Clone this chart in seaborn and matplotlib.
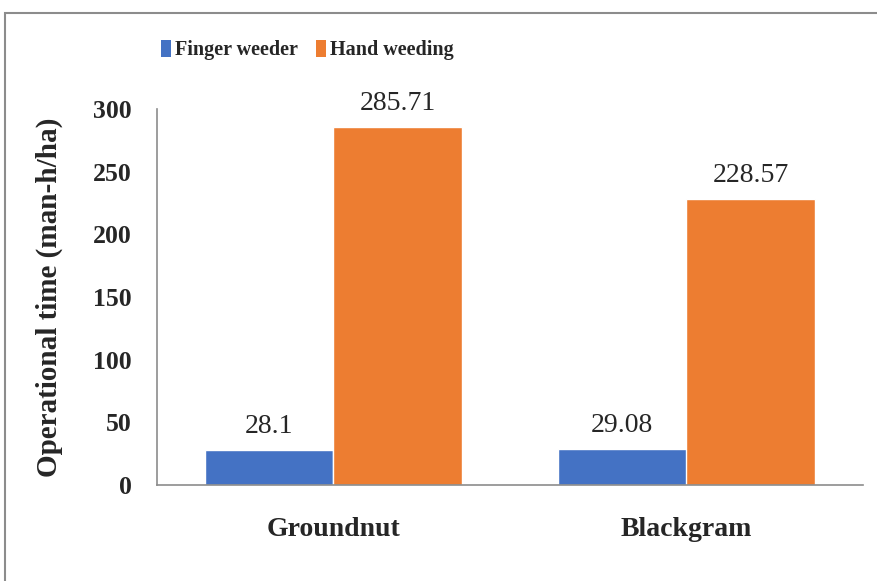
import matplotlib
matplotlib.use("Agg")
import pandas as pd
import matplotlib.pyplot as plt
import seaborn as sns
from matplotlib.patches import Rectangle, Patch

CROPS = ["Groundnut", "Blackgram"]
METHODS = ["Finger weeder", "Hand weeding"]
FINGER = [28.1, 29.08]
HAND = [285.71, 228.57]
LABELS = {"Finger weeder": ["28.1", "29.08"], "Hand weeding": ["285.71", "228.57"]}
COLORS = ["#4472C4", "#ED7D31"]
YTICKS = [0, 50, 100, 150, 200, 250, 300]


def build():
    rows = []
    for method, vals in zip(METHODS, [FINGER, HAND]):
        for crop, v in zip(CROPS, vals):
            rows.append({"crop": crop, "method": method, "time": v})
    return pd.DataFrame(rows)


def main():
    sns.set_style("white")
    plt.rcParams["font.family"] = ["Liberation Serif", "DejaVu Serif"]

    df = build()
    fig = plt.figure(figsize=(8.78, 5.81), dpi=100)
    W, H = 878, 581
    ax = fig.add_axes([157 / W, 1 - 485 / H, (863 - 157) / W, (485 - 109) / H])

    sns.barplot(data=df, x="crop", y="time", hue="method", hue_order=METHODS,
                order=CROPS, palette=COLORS, saturation=1, width=0.73,
                errorbar=None, ax=ax)
    ax.get_legend().remove()

    for container, method in zip(ax.containers, METHODS):
        for bar, lab in zip(container, LABELS[method]):
            ax.annotate(lab, (bar.get_x() + bar.get_width() / 2, bar.get_height()),
                        xytext=(0, 12), textcoords="offset points",
                        ha="center", va="baseline", fontsize=20)

    ax.set_ylim(0, 300)
    ax.set_xlim(-0.5, 1.5)
    ax.set_yticks(YTICKS)
    ax.set_yticklabels([str(t) for t in YTICKS], fontsize=18.5, fontweight="bold")
    ax.set_xticks(range(len(CROPS)))
    ax.set_xticklabels(CROPS, fontsize=20, fontweight="bold")
    ax.tick_params(axis="y", length=0, pad=18)
    ax.tick_params(axis="x", length=0, pad=23)
    ax.set_xlabel("")
    ax.set_ylabel("Operational time (man-h/ha)", fontsize=21, fontweight="bold", labelpad=22)

    for side in ["top", "right"]:
        ax.spines[side].set_visible(False)
    for side in ["left", "bottom"]:
        ax.spines[side].set_color("#8c8c8c")
        ax.spines[side].set_linewidth(1.2)

    handles = [Patch(facecolor=c, edgecolor="none") for c in COLORS]
    fig.legend(handles, METHODS, loc="center", bbox_to_anchor=(307 / W, 1 - 50 / H),
               ncol=2, frameon=False, handlelength=0.5, handleheight=0.9,
               handletextpad=0.2, columnspacing=0.9,
               prop={"family": "Liberation Serif", "weight": "bold", "size": 14.5})

    border = Rectangle((5 / W, -0.05), 1.1, 1 - 13 / H + 0.05, transform=fig.transFigure,
                       fill=False, edgecolor="#8c8c8c", linewidth=1.5, clip_on=False)
    fig.patches.append(border)

    fig.savefig("out.png", dpi=100)
    plt.close(fig)


if __name__ == "__main__":
    main()
